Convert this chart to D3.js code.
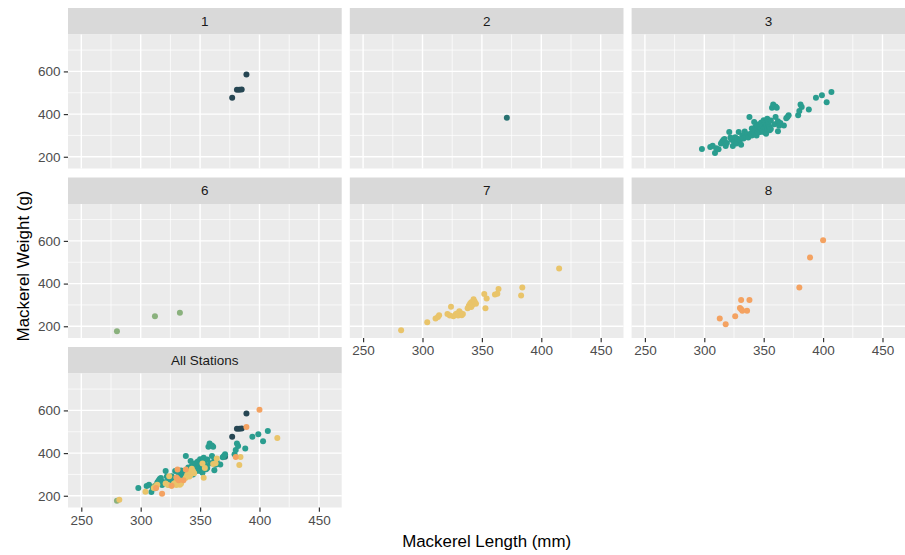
<!DOCTYPE html>
<html>
<head>
<meta charset="utf-8">
<script src="https://cdn.jsdelivr.net/npm/d3@7"></script>
<style>
  html, body { margin: 0; padding: 0; background: #ffffff; }
  svg { display: block; font-family: "Liberation Sans", Arial, sans-serif; }
</style>
</head>
<body>
<svg id="chart" width="905" height="555"></svg>
<script>
// ---- data ----
const facetLabels = ["1", "2", "3", "6", "7", "8", "All Stations"];
const stationNames = ["1", "2", "3", "6", "7", "8"];
const stationColors = ["#264653", "#287271", "#2A9D8F", "#8AB17D", "#E9C46A", "#F4A261"];

// [length mm, weight g]
const station1 = [[377,477],[381,514],[383,514],[385,515],[389,585]];
const station2 = [[371,383]];
const station3 = [[298,236],[305,246],[307,252],[309,218],[310,240],[312,235],[314,262],[315,270],[316,278],
  [317,283],[318,250],[319,265],[321,316],[322,290],[323,280],[324,250],[325,270],[326,292],[327,262],
  [328,285],[329,316],[330,277],[331,256],[332,300],[333,286],[334,318],[335,295],[336,305],[337,290],
  [338,386],[339,308],[340,300],[340,332],[341,318],[342,363],[342,312],[343,324],[343,340],[344,300],
  [344,330],[345,347],[345,315],[346,352],[346,326],[347,316],[347,338],[348,332],[348,360],[349,324],
  [349,345],[350,371],[350,316],[351,340],[351,356],[352,308],[352,347],[353,378],[353,330],[354,347],
  [354,360],[355,324],[355,340],[356,330],[356,370],[357,430],[358,445],[359,352],[360,386],[360,436],
  [361,430],[362,320],[362,367],[363,345],[364,358],[367,347],[369,380],[370,386],[371,394],[379,394],
  [380,414],[381,445],[382,433],[388,422],[394,477],[399,488],[403,456],[407,503]];
const station6 = [[280,177],[312,247],[333,263]];
const station7 = [[282,181],[304,219],[311,236],[313,244],[314,252],[321,257],[323,250],[324,291],
  [326,247],[328,256],[329,260],[330,250],[331,270],[332,262],[333,252],[334,258],[338,285],[339,296],
  [340,305],[341,290],[341,312],[342,300],[343,320],[343,327],[344,315],[345,305],[352,351],[354,330],
  [353,284],[361,349],[363,352],[364,375],[383,344],[384,382],[415,471]];
const station8 = [[313,236],[318,209],[326,247],[330,286],[331,323],[331,280],[332,273],[336,273],
  [338,323],[380,382],[389,522],[400,603]];
const stationData = [station1, station2, station3, station6, station7, station8];

const xTicks = [250, 300, 350, 400, 450];
const xMinor = [275, 325, 375, 425];
const yTicks = [200, 400, 600];
const yMinor = [300, 500, 700];
const xTitle = "Mackerel Length (mm)";
const yTitle = "Mackerel Weight (g)";

// ---- layout ----
const svg = d3.select("#chart");
const colX = [68, 349.8, 631.6];
const panelW = 273.7;
const rowTop = [8, 177.5, 347];
const stripH = 26.5;
const panelH = 134;

const x = d3.scaleLinear().domain([238.8, 469.2]).range([0, panelW]);
const y = d3.scaleLinear().domain([145, 773]).range([panelH, 0]);

const tickFont = 13.5, titleFont = 16.9;

facetLabels.forEach((label, i) => {
  const col = i % 3, row = Math.floor(i / 3);
  const px = colX[col], sy = rowTop[row], py = sy + stripH;
  const g = svg.append("g");

  // strip
  g.append("rect").attr("x", px).attr("y", sy).attr("width", panelW).attr("height", stripH)
    .attr("fill", "#D9D9D9");
  g.append("text").attr("x", px + panelW / 2).attr("y", sy + stripH / 2)
    .attr("dy", "0.35em").attr("text-anchor", "middle")
    .attr("font-size", tickFont).attr("fill", "#1A1A1A").text(label);

  const p = g.append("g").attr("transform", `translate(${px},${py})`);
  p.append("rect").attr("width", panelW).attr("height", panelH).attr("fill", "#EBEBEB");

  // minor grid
  p.selectAll(".vmin").data(xMinor).enter().append("line")
    .attr("x1", d => x(d)).attr("x2", d => x(d)).attr("y1", 0).attr("y2", panelH)
    .attr("stroke", "#fff").attr("stroke-width", 0.7);
  p.selectAll(".hmin").data(yMinor).enter().append("line")
    .attr("y1", d => y(d)).attr("y2", d => y(d)).attr("x1", 0).attr("x2", panelW)
    .attr("stroke", "#fff").attr("stroke-width", 0.7);
  // major grid
  p.selectAll(".vmaj").data(xTicks).enter().append("line")
    .attr("x1", d => x(d)).attr("x2", d => x(d)).attr("y1", 0).attr("y2", panelH)
    .attr("stroke", "#fff").attr("stroke-width", 1.4);
  p.selectAll(".hmaj").data(yTicks).enter().append("line")
    .attr("y1", d => y(d)).attr("y2", d => y(d)).attr("x1", 0).attr("x2", panelW)
    .attr("stroke", "#fff").attr("stroke-width", 1.4);

  // points
  const idxs = label === "All Stations" ? stationNames.map((_, k) => k) : [stationNames.indexOf(label)];
  idxs.forEach(k => {
    p.selectAll(null).data(stationData[k]).enter().append("circle")
      .attr("cx", d => x(d[0])).attr("cy", d => y(d[1])).attr("r", 3)
      .attr("fill", stationColors[k]);
  });

  // y axis (left column)
  if (col === 0) {
    const ya = d3.axisLeft(y).tickValues(yTicks).tickSize(4.2).tickPadding(3.4);
    const ag = p.append("g").call(ya);
    ag.select(".domain").remove();
    ag.selectAll(".tick line").attr("stroke", "#333333").attr("stroke-width", 1.2);
    ag.selectAll(".tick text").attr("fill", "#4D4D4D").attr("font-size", tickFont)
      .attr("font-family", "Liberation Sans, Arial, sans-serif");
  }
  // x axis where nothing below
  if (i >= 4) {
    const xa = d3.axisBottom(x).tickValues(xTicks).tickSize(4.2).tickPadding(3.4);
    const ag = p.append("g").attr("transform", `translate(0,${panelH})`).call(xa);
    ag.select(".domain").remove();
    ag.selectAll(".tick line").attr("stroke", "#333333").attr("stroke-width", 1.2);
    ag.selectAll(".tick text").attr("fill", "#4D4D4D").attr("font-size", tickFont)
      .attr("font-family", "Liberation Sans, Arial, sans-serif");
  }
});

// axis titles
svg.append("text").attr("x", (colX[0] + colX[2] + panelW) / 2).attr("y", 547)
  .attr("text-anchor", "middle").attr("font-size", titleFont).attr("fill", "#000").text(xTitle);
svg.append("text").attr("transform", "translate(29,266) rotate(-90)")
  .attr("text-anchor", "middle").attr("font-size", titleFont).attr("fill", "#000").text(yTitle);
</script>
</body>
</html>
